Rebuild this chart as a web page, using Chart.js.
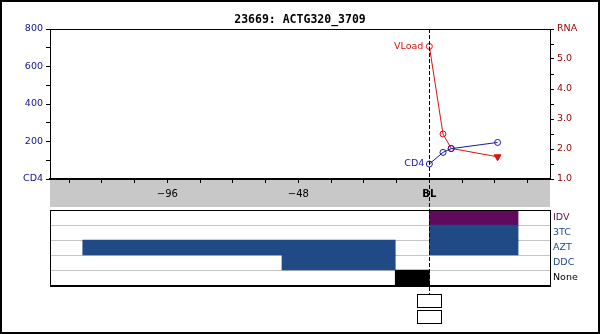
<!DOCTYPE html>
<html>
<head>
<meta charset="utf-8">
<script src="https://cdn.jsdelivr.net/npm/chart.js@4"></script>
<style>
  body { margin: 0; background: #fff; }
  #wrap { position: relative; width: 600px; height: 334px; }
  #wrap canvas { position: absolute; left: 0; top: 0; }
  #frame { position: absolute; left: 0; top: 0; width: 600px; height: 334px; box-sizing: border-box; border: 2px solid #000; pointer-events: none; }
</style>
</head>
<body>
<div id="wrap">
  <canvas id="labChart" width="600" height="334"></canvas>
  <canvas id="drugChart" width="600" height="334"></canvas>
  <div id="frame"></div>
</div>
<script>
// semanas respecto a la linea base (BL = 0)
const weeks = [0, 5, 8, 25];
const cd4Values = [80, 142, 162, 195];      // eje izquierdo
const vloadValues = [5.42, 2.5, 2.02, 1.74]; // eje derecho (RNA)

// etiquetas de los ejes
const xTickValues = [-96, -48, 0];
const xTickNames = ['\u221296', '\u221248', 'BL'];

// tratamientos (filas del panel inferior)
const drugs = ['IDV', '3TC', 'AZT', 'DDC', 'None'];
const firstRegimen = [null, null, [-127, -12.5], [-54, -12.5], null];
const secondRegimen = [[0, 32.5], [0, 32.5], [0, 32.5], null, null];
const noTreatment = [null, null, null, null, [-12.5, 0]];

const xMin = -139, xMax = 44.2;
const blue = '#1f4a85';
const purple = '#600a5e';
const cd4Color = '#1a1aa0';
const vloadColor = '#dd1111';
const drugLabelColors = ['#5a1050', blue, blue, blue, '#000'];

const labelFont = { family: 'DejaVu Sans', size: 9.5 };

const textPlugin = {
  id: 'seriesNames',
  afterDraw(chart) {
    const ctx = chart.ctx;
    const a = chart.chartArea;
    // borde superior del area del grafico
    ctx.save();
    ctx.strokeStyle = '#000';
    ctx.lineWidth = 1;
    ctx.beginPath();
    ctx.moveTo(a.left, a.top + 0.5);
    ctx.lineTo(a.right + 1, a.top + 0.5);
    ctx.stroke();
    // nombres de las series junto al primer punto
    ctx.font = '9.5px "DejaVu Sans"';
    ctx.textAlign = 'right';
    ctx.textBaseline = 'middle';
    const vl = chart.getDatasetMeta(1).data[0];
    ctx.fillStyle = vloadColor;
    ctx.fillText('VLoad', vl.x - 6, vl.y);
    const cd = chart.getDatasetMeta(0).data[0];
    ctx.fillStyle = cd4Color;
    ctx.fillText('CD4', cd.x - 5, cd.y);
    ctx.restore();
  }
};

const labChart = new Chart(document.getElementById('labChart'), {
  type: 'line',
  data: {
    datasets: [
      {
        label: 'CD4',
        data: weeks.map((w, i) => ({ x: w, y: cd4Values[i] })),
        yAxisID: 'y',
        borderColor: cd4Color,
        borderWidth: 1,
        pointRadius: 3,
        pointBorderWidth: 1,
        pointBorderColor: cd4Color,
        pointBackgroundColor: 'rgba(0,0,0,0)'
      },
      {
        label: 'VLoad',
        data: weeks.map((w, i) => ({ x: w, y: vloadValues[i] })),
        yAxisID: 'y1',
        borderColor: vloadColor,
        borderWidth: 1,
        pointRadius: [3, 3, 3, 4],
        pointStyle: ['circle', 'circle', 'circle', 'triangle'],
        rotation: [0, 0, 0, 180],
        pointBorderWidth: 1,
        pointBorderColor: vloadColor,
        pointBackgroundColor: ['rgba(0,0,0,0)', 'rgba(0,0,0,0)', 'rgba(0,0,0,0)', vloadColor]
      }
    ]
  },
  options: {
    responsive: false,
    animation: false,
    layout: { padding: { left: 0, right: 0, top: 0, bottom: 127 } },
    plugins: {
      legend: { display: false },
      tooltip: { enabled: false },
      title: {
        display: true,
        text: '23669: ACTG320_3709',
        color: '#000',
        font: { family: 'DejaVu Sans Mono', size: 11.5, weight: 'bold' },
        padding: { top: 13, bottom: 2.2 }
      }
    },
    scales: {
      x: {
        type: 'linear',
        min: xMin,
        max: xMax,
        backgroundColor: '#c8c8c8',
        afterFit: s => { s.height = 28; },
        border: { color: '#000', width: 2 },
        grid: { drawOnChartArea: false, color: '#000', tickLength: 4 },
        ticks: {
          stepSize: 12,
          includeBounds: false,
          autoSkip: false,
          maxRotation: 0,
          padding: 5,
          color: '#000',
          font: c => ({ family: 'DejaVu Sans', size: 10, weight: c.tick && c.tick.value === 0 ? 'bold' : 'normal' }),
          callback: v => {
            const k = xTickValues.indexOf(v);
            return k >= 0 ? xTickNames[k] : '';
          }
        }
      },
      y: {
        position: 'left',
        min: 0,
        max: 800,
        afterFit: s => { s.width = 50; },
        border: { color: '#000', width: 1 },
        grid: { drawOnChartArea: false, color: '#000', tickLength: 4 },
        ticks: {
          stepSize: 100,
          padding: 3,
          color: '#10108a',
          font: labelFont,
          callback: v => v === 0 ? 'CD4' : (v % 200 === 0 ? String(v) : '')
        }
      },
      y1: {
        position: 'right',
        min: 1,
        max: 6,
        afterFit: s => { s.width = 50; },
        border: { color: '#000', width: 1 },
        grid: { drawOnChartArea: false, color: '#000', tickLength: 4 },
        ticks: {
          stepSize: 0.5,
          padding: 3,
          color: '#900000',
          font: labelFont,
          callback: v => v === 6 ? 'RNA' : (Number.isInteger(v) ? v.toFixed(1) : '')
        }
      }
    }
  },
  plugins: [textPlugin]
});

const panelPlugin = {
  id: 'panelExtras',
  afterDraw(chart) {
    const ctx = chart.ctx;
    const a = chart.chartArea;
    ctx.save();
    // marco del panel de tratamientos
    ctx.strokeStyle = '#000';
    ctx.lineWidth = 1;
    ctx.strokeRect(a.left + 0.5, a.top + 0.5, a.width, a.height);
    ctx.beginPath();
    ctx.moveTo(a.left, a.bottom + 1.5);
    ctx.lineTo(a.right + 1, a.bottom + 1.5);
    ctx.stroke();
    // linea base discontinua y cajas
    const x0 = Math.round(chart.scales.x.getPixelForValue(0)) + 0.5;
    const boxTop = a.bottom + 9;
    ctx.setLineDash([4, 2]);
    ctx.beginPath();
    ctx.moveTo(x0, labChart.chartArea.top);
    ctx.lineTo(x0, boxTop);
    ctx.stroke();
    ctx.setLineDash([]);
    ctx.fillStyle = '#fff';
    for (let i = 0; i < 2; i++) {
      const y = boxTop + i * 16 + 0.5;
      ctx.fillRect(x0 - 12, y, 24, 13);
      ctx.strokeRect(x0 - 12, y, 24, 13);
    }
    ctx.restore();
  }
};

new Chart(document.getElementById('drugChart'), {
  type: 'bar',
  data: {
    labels: drugs,
    datasets: [
      { data: firstRegimen, backgroundColor: blue },
      { data: secondRegimen, backgroundColor: drugs.map(d => d === 'IDV' ? purple : blue) },
      { data: noTreatment, backgroundColor: '#000' }
    ]
  },
  options: {
    indexAxis: 'y',
    responsive: false,
    animation: false,
    layout: { padding: { left: 50, right: 0, top: 210, bottom: 49 } },
    datasets: { bar: { grouped: false, barPercentage: 1, categoryPercentage: 1, borderWidth: 0 } },
    plugins: { legend: { display: false }, tooltip: { enabled: false } },
    scales: {
      x: { type: 'linear', min: xMin, max: xMax, display: false },
      y: {
        position: 'right',
        z: 1,
        afterFit: s => { s.width = 50; },
        border: { display: false },
        grid: { offset: true, color: '#c4c4c4', drawTicks: false },
        ticks: {
          padding: 3,
          color: c => drugLabelColors[c.index],
          font: labelFont
        }
      }
    }
  },
  plugins: [panelPlugin]
});
</script>
</body>
</html>
